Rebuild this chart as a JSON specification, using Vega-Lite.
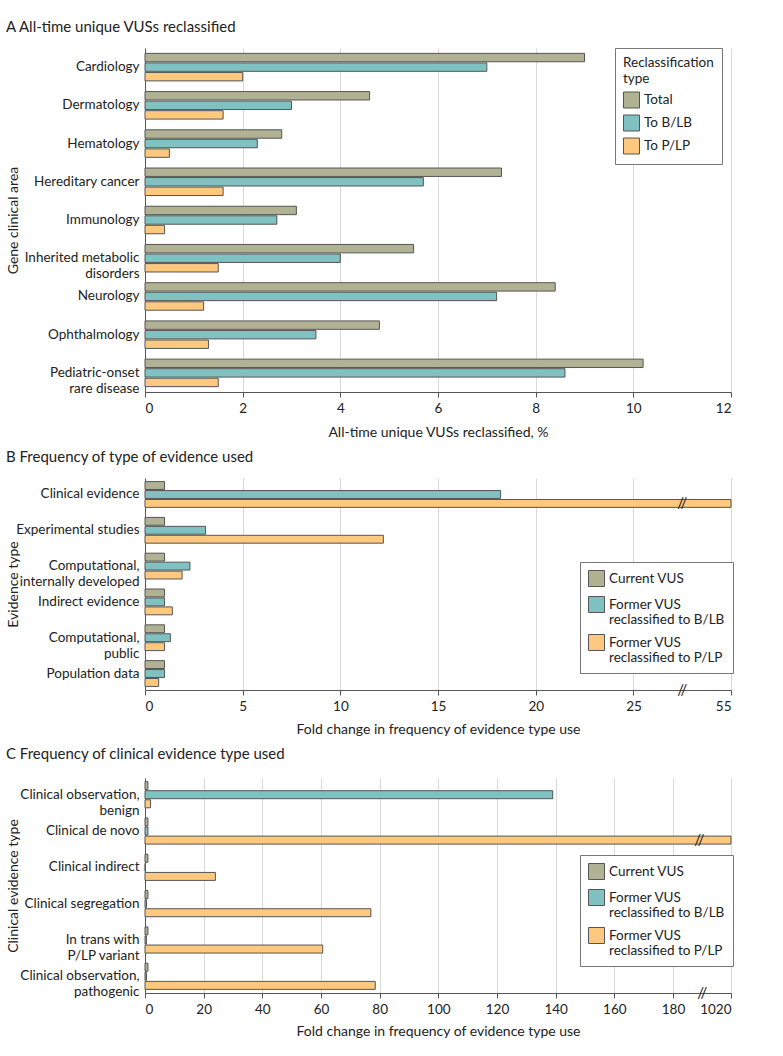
{
  "$schema": "https://vega.github.io/schema/vega-lite/v6.json",
  "padding": {"left": 6, "top": 19, "right": 5, "bottom": 5},
  "spacing": 10,
  "config": {
    "font": "Lato",
    "view": {"stroke": null},
    "axis": {"labelFont": "Lato", "titleFont": "Lato", "labelFontSize": 13.5, "titleFontSize": 14, "titleFontWeight": "normal", "labelColor": "#222", "titleColor": "#222", "domainColor": "#555", "tickColor": "#555", "gridColor": "#d9d9d9", "labelLineHeight": 16},
    "title": {"font": "Lato", "fontSize": 15, "fontWeight": "normal", "anchor": "start", "frame": "bounds", "color": "#222", "offset": 11},
    "legend": {"labelFont": "Lato", "titleFont": "Lato", "labelFontSize": 13.5, "titleFontSize": 13.5, "titleFontWeight": "normal", "labelColor": "#222", "titleColor": "#222", "fillColor": "white", "strokeColor": "#777", "padding": 8, "symbolType": "square", "symbolSize": 256, "symbolStrokeColor": "#555", "symbolStrokeWidth": 1, "symbolOpacity": 1, "rowPadding": 6, "titleLineHeight": 16, "labelLineHeight": 16, "titlePadding": 6}
  },
  "vconcat": [
    {
      "title": {"text": "A  All-time unique VUSs reclassified", "offset": 13},
      "width": 586,
      "height": 344,
      "data": {"values": [
        {"area": "Cardiology", "type": "Total", "pct": 9.0},
        {"area": "Cardiology", "type": "To B/LB", "pct": 7.0},
        {"area": "Cardiology", "type": "To P/LP", "pct": 2.0},
        {"area": "Dermatology", "type": "Total", "pct": 4.6},
        {"area": "Dermatology", "type": "To B/LB", "pct": 3.0},
        {"area": "Dermatology", "type": "To P/LP", "pct": 1.6},
        {"area": "Hematology", "type": "Total", "pct": 2.8},
        {"area": "Hematology", "type": "To B/LB", "pct": 2.3},
        {"area": "Hematology", "type": "To P/LP", "pct": 0.5},
        {"area": "Hereditary cancer", "type": "Total", "pct": 7.3},
        {"area": "Hereditary cancer", "type": "To B/LB", "pct": 5.7},
        {"area": "Hereditary cancer", "type": "To P/LP", "pct": 1.6},
        {"area": "Immunology", "type": "Total", "pct": 3.1},
        {"area": "Immunology", "type": "To B/LB", "pct": 2.7},
        {"area": "Immunology", "type": "To P/LP", "pct": 0.4},
        {"area": "Inherited metabolic disorders", "type": "Total", "pct": 5.5},
        {"area": "Inherited metabolic disorders", "type": "To B/LB", "pct": 4.0},
        {"area": "Inherited metabolic disorders", "type": "To P/LP", "pct": 1.5},
        {"area": "Neurology", "type": "Total", "pct": 8.4},
        {"area": "Neurology", "type": "To B/LB", "pct": 7.2},
        {"area": "Neurology", "type": "To P/LP", "pct": 1.2},
        {"area": "Ophthalmology", "type": "Total", "pct": 4.8},
        {"area": "Ophthalmology", "type": "To B/LB", "pct": 3.5},
        {"area": "Ophthalmology", "type": "To P/LP", "pct": 1.3},
        {"area": "Pediatric-onset rare disease", "type": "Total", "pct": 10.2},
        {"area": "Pediatric-onset rare disease", "type": "To B/LB", "pct": 8.6},
        {"area": "Pediatric-onset rare disease", "type": "To P/LP", "pct": 1.5}
      ]},
      "mark": {"type": "bar", "stroke": "#555", "strokeWidth": 1},
      "encoding": {
        "y": {"field": "area", "type": "nominal", "sort": null, "scale": {"paddingInner": 0.28, "paddingOuter": 0.14},
          "axis": {"title": "Gene clinical area", "ticks": false, "domain": true, "labelPadding": 6, "minExtent": 120, "maxExtent": 120, "titlePadding": 5,
            "labelExpr": "datum.label == 'Inherited metabolic disorders' ? ['Inherited metabolic', 'disorders'] : datum.label == 'Pediatric-onset rare disease' ? ['Pediatric-onset', 'rare disease'] : datum.label"}},
        "yOffset": {"field": "type", "type": "nominal", "sort": ["Total", "To B/LB", "To P/LP"], "scale": {"paddingInner": 0.12}},
        "x": {"field": "pct", "type": "quantitative", "scale": {"domain": [0, 12], "nice": false},
          "axis": {"title": "All-time unique VUSs reclassified, %", "values": [0, 2, 4, 6, 8, 10, 12], "grid": true, "tickSize": 5, "labelPadding": 4, "titlePadding": 11}},
        "color": {"field": "type", "type": "nominal", "sort": ["Total", "To B/LB", "To P/LP"],
          "scale": {"domain": ["Total", "To B/LB", "To P/LP"], "range": ["#b1b293", "#80c1c1", "#ffc87f"]},
          "legend": {"title": ["Reclassification", "type"], "orient": "none", "legendX": 470, "legendY": 0, "rowPadding": 2}}
      }
    },
    {
      "title": {"text": "B  Frequency of type of evidence used", "offset": 13},
      "width": 586,
      "height": 212,
      "layer": [
        {
          "data": {"values": [
            {"evidence": "Clinical evidence", "group": "Current VUS", "fold": 1.0},
            {"evidence": "Clinical evidence", "group": "Former VUS reclassified to B/LB", "fold": 18.2},
            {"evidence": "Clinical evidence", "group": "Former VUS reclassified to P/LP", "fold": 55},
            {"evidence": "Experimental studies", "group": "Current VUS", "fold": 1.0},
            {"evidence": "Experimental studies", "group": "Former VUS reclassified to B/LB", "fold": 3.1},
            {"evidence": "Experimental studies", "group": "Former VUS reclassified to P/LP", "fold": 12.2},
            {"evidence": "Computational, internally developed", "group": "Current VUS", "fold": 1.0},
            {"evidence": "Computational, internally developed", "group": "Former VUS reclassified to B/LB", "fold": 2.3},
            {"evidence": "Computational, internally developed", "group": "Former VUS reclassified to P/LP", "fold": 1.9},
            {"evidence": "Indirect evidence", "group": "Current VUS", "fold": 1.0},
            {"evidence": "Indirect evidence", "group": "Former VUS reclassified to B/LB", "fold": 1.0},
            {"evidence": "Indirect evidence", "group": "Former VUS reclassified to P/LP", "fold": 1.4},
            {"evidence": "Computational, public", "group": "Current VUS", "fold": 1.0},
            {"evidence": "Computational, public", "group": "Former VUS reclassified to B/LB", "fold": 1.3},
            {"evidence": "Computational, public", "group": "Former VUS reclassified to P/LP", "fold": 1.0},
            {"evidence": "Population data", "group": "Current VUS", "fold": 1.0},
            {"evidence": "Population data", "group": "Former VUS reclassified to B/LB", "fold": 1.0},
            {"evidence": "Population data", "group": "Former VUS reclassified to P/LP", "fold": 0.7}
          ]},
          "mark": {"type": "bar", "stroke": "#555", "strokeWidth": 1},
          "encoding": {
            "y": {"field": "evidence", "type": "nominal", "sort": null, "scale": {"paddingInner": 0.28, "paddingOuter": 0.1},
              "axis": {"title": "Evidence type", "ticks": false, "labelPadding": 6, "minExtent": 120, "maxExtent": 120, "titlePadding": 5,
                "labelExpr": "datum.label == 'Computational, internally developed' ? ['Computational,', 'internally developed'] : datum.label == 'Computational, public' ? ['Computational,', 'public'] : datum.label"}},
            "yOffset": {"field": "group", "type": "nominal", "sort": ["Current VUS", "Former VUS reclassified to B/LB", "Former VUS reclassified to P/LP"], "scale": {"paddingInner": 0.12}},
            "x": {"field": "fold", "type": "quantitative", "scale": {"domain": [0, 27.5, 55], "range": [0, 537.3, 586], "nice": false, "zero": false, "clamp": true},
              "axis": {"title": "Fold change in frequency of evidence type use", "values": [0, 5, 10, 15, 20, 25, 55], "grid": true, "tickSize": 5, "labelPadding": 4, "titlePadding": 10}},
            "color": {"field": "group", "type": "nominal",
              "scale": {"domain": ["Current VUS", "Former VUS reclassified to B/LB", "Former VUS reclassified to P/LP"], "range": ["#b1b293", "#80c1c1", "#ffc87f"]},
              "legend": {"title": null, "orient": "none", "legendX": 435, "legendY": 84, "rowPadding": 5,
                "labelExpr": "indexof(datum.label, 'Former') == 0 ? ['Former VUS', substring(datum.label, 11)] : datum.label"}}
          }
        },
        {
          "data": {"values": [{"evidence": "Clinical evidence", "group": "Former VUS reclassified to P/LP", "brk": 27.5}]},
          "mark": {"type": "text", "text": "//", "fontSize": 15, "color": "#222"},
          "encoding": {
            "y": {"field": "evidence", "type": "nominal", "sort": null},
            "yOffset": {"field": "group", "type": "nominal"},
            "x": {"field": "brk", "type": "quantitative"}
          }
        },
        {
          "data": {"values": [{"brk": 27.5}]},
          "mark": {"type": "text", "text": "//", "fontSize": 15, "color": "#222"},
          "encoding": {
            "x": {"field": "brk", "type": "quantitative"},
            "y": {"value": "height"}
          }
        }
      ],
      "resolve": {"scale": {"color": "independent"}}
    },
    {
      "title": {"text": "C  Frequency of clinical evidence type used", "offset": 16},
      "width": 586,
      "height": 215,
      "layer": [
        {
          "data": {"values": [
            {"evidence": "Clinical observation, benign", "group": "Current VUS", "fold": 1.0},
            {"evidence": "Clinical observation, benign", "group": "Former VUS reclassified to B/LB", "fold": 139},
            {"evidence": "Clinical observation, benign", "group": "Former VUS reclassified to P/LP", "fold": 1.9},
            {"evidence": "Clinical de novo", "group": "Current VUS", "fold": 1.0},
            {"evidence": "Clinical de novo", "group": "Former VUS reclassified to B/LB", "fold": 1.0},
            {"evidence": "Clinical de novo", "group": "Former VUS reclassified to P/LP", "fold": 1018},
            {"evidence": "Clinical indirect", "group": "Current VUS", "fold": 1.0},
            {"evidence": "Clinical indirect", "group": "Former VUS reclassified to B/LB", "fold": 0.1},
            {"evidence": "Clinical indirect", "group": "Former VUS reclassified to P/LP", "fold": 24},
            {"evidence": "Clinical segregation", "group": "Current VUS", "fold": 1.0},
            {"evidence": "Clinical segregation", "group": "Former VUS reclassified to B/LB", "fold": 0.5},
            {"evidence": "Clinical segregation", "group": "Former VUS reclassified to P/LP", "fold": 77},
            {"evidence": "In trans with P/LP variant", "group": "Current VUS", "fold": 1.0},
            {"evidence": "In trans with P/LP variant", "group": "Former VUS reclassified to B/LB", "fold": 0.5},
            {"evidence": "In trans with P/LP variant", "group": "Former VUS reclassified to P/LP", "fold": 60.6},
            {"evidence": "Clinical observation, pathogenic", "group": "Current VUS", "fold": 1.0},
            {"evidence": "Clinical observation, pathogenic", "group": "Former VUS reclassified to B/LB", "fold": 0.5},
            {"evidence": "Clinical observation, pathogenic", "group": "Former VUS reclassified to P/LP", "fold": 78.5}
          ]},
          "mark": {"type": "bar", "stroke": "#555", "strokeWidth": 1},
          "encoding": {
            "y": {"field": "evidence", "type": "nominal", "sort": null, "scale": {"paddingInner": 0.28, "paddingOuter": 0.1},
              "axis": {"title": "Clinical evidence type", "ticks": false, "labelPadding": 6, "minExtent": 120, "maxExtent": 120, "titlePadding": 5,
                "labelExpr": "datum.label == 'Clinical observation, benign' ? ['Clinical observation,', 'benign'] : datum.label == 'Clinical observation, pathogenic' ? ['Clinical observation,', 'pathogenic'] : datum.label == 'In trans with P/LP variant' ? ['In trans with', 'P/LP variant'] : datum.label"}},
            "yOffset": {"field": "group", "type": "nominal", "sort": ["Current VUS", "Former VUS reclassified to B/LB", "Former VUS reclassified to P/LP"], "scale": {"paddingInner": 0.12}},
            "x": {"field": "fold", "type": "quantitative", "scale": {"domain": [0, 190, 1020], "range": [0, 557.3, 586], "nice": false, "zero": false, "clamp": true},
              "axis": {"title": "Fold change in frequency of evidence type use", "values": [0, 20, 40, 60, 80, 100, 120, 140, 160, 180, 1020], "format": "d", "grid": true, "tickSize": 5, "labelPadding": 4, "titlePadding": 9}},
            "color": {"field": "group", "type": "nominal",
              "scale": {"domain": ["Current VUS", "Former VUS reclassified to B/LB", "Former VUS reclassified to P/LP"], "range": ["#b1b293", "#80c1c1", "#ffc87f"]},
              "legend": {"title": null, "orient": "none", "legendX": 435, "legendY": 77, "rowPadding": 5,
                "labelExpr": "indexof(datum.label, 'Former') == 0 ? ['Former VUS', substring(datum.label, 11)] : datum.label"}}
          }
        },
        {
          "data": {"values": [{"evidence": "Clinical de novo", "group": "Former VUS reclassified to P/LP", "brk": 189}]},
          "mark": {"type": "text", "text": "//", "fontSize": 15, "color": "#222"},
          "encoding": {
            "y": {"field": "evidence", "type": "nominal", "sort": null},
            "yOffset": {"field": "group", "type": "nominal"},
            "x": {"field": "brk", "type": "quantitative"}
          }
        },
        {
          "data": {"values": [{"brk": 190}]},
          "mark": {"type": "text", "text": "//", "fontSize": 15, "color": "#222"},
          "encoding": {
            "x": {"field": "brk", "type": "quantitative"},
            "y": {"value": "height"}
          }
        }
      ]
    }
  ],
  "resolve": {"scale": {"color": "independent", "x": "independent", "y": "independent", "yOffset": "independent"}, "legend": {"color": "independent"}}
}
